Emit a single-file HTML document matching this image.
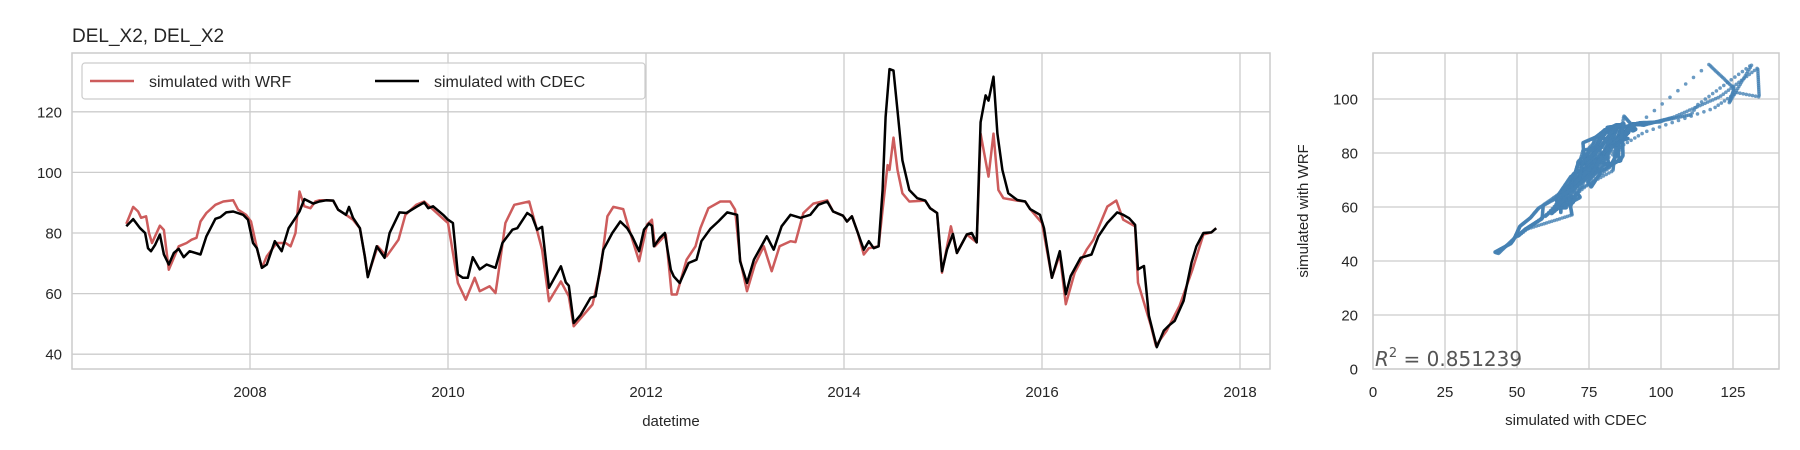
<!DOCTYPE html>
<html><head><meta charset="utf-8"><style>
html,body{margin:0;padding:0;background:#fff}
svg{display:block;font-family:"Liberation Sans",sans-serif}
</style></head><body>
<svg id="chart" width="1800" height="450" xmlns="http://www.w3.org/2000/svg"></svg>
<script>
const cdecDates=[2006.75,2006.82,2006.89,2006.94,2006.97,2007.0,2007.04,2007.09,2007.13,2007.18,2007.23,2007.28,2007.33,2007.39,2007.5,2007.56,2007.65,2007.7,2007.76,2007.83,2007.93,2007.98,2008.03,2008.07,2008.12,2008.17,2008.25,2008.32,2008.39,2008.47,2008.5,2008.55,2008.64,2008.7,2008.77,2008.84,2008.89,2008.97,2009.0,2009.04,2009.11,2009.16,2009.19,2009.28,2009.36,2009.41,2009.51,2009.58,2009.68,2009.76,2009.8,2009.85,2009.95,2010.0,2010.05,2010.1,2010.15,2010.2,2010.25,2010.32,2010.39,2010.48,2010.55,2010.65,2010.7,2010.8,2010.85,2010.9,2010.95,2011.02,2011.14,2011.19,2011.22,2011.27,2011.34,2011.44,2011.49,2011.57,2011.66,2011.74,2011.81,2011.86,2011.93,2011.98,2012.03,2012.06,2012.08,2012.14,2012.19,2012.25,2012.28,2012.34,2012.43,2012.51,2012.56,2012.65,2012.73,2012.82,2012.92,2012.95,2013.02,2013.09,2013.22,2013.29,2013.37,2013.46,2013.56,2013.66,2013.74,2013.83,2013.89,2013.99,2014.03,2014.08,2014.14,2014.2,2014.25,2014.3,2014.35,2014.39,2014.42,2014.46,2014.5,2014.54,2014.59,2014.66,2014.74,2014.82,2014.87,2014.94,2014.99,2015.04,2015.1,2015.14,2015.24,2015.29,2015.34,2015.38,2015.43,2015.46,2015.51,2015.55,2015.6,2015.66,2015.75,2015.83,2015.88,2015.98,2016.02,2016.1,2016.18,2016.24,2016.29,2016.39,2016.5,2016.57,2016.66,2016.76,2016.82,2016.88,2016.94,2016.97,2017.03,2017.08,2017.13,2017.16,2017.23,2017.28,2017.34,2017.43,2017.51,2017.56,2017.63,2017.71,2017.76];
const cdecValues=[82.2,84.6,81.6,80,75,74,76,79.5,72.9,69.6,73.4,74.8,72,74,72.9,78.9,84.7,85.2,86.8,87.1,86,84.4,76.7,75,68.5,69.6,77.3,74,81.6,85.5,87.1,91.2,89.7,90.4,90.8,90.7,87.7,86,88.6,85,81.6,72.3,65.4,75.6,71.8,80,86.8,86.6,88.6,90.1,88.2,88.8,86,84.4,83.3,66.3,65.2,65.2,72,68,69.6,68.5,76.7,81.1,81.6,86.6,85.5,81.1,82,61.9,69,63.7,62.6,50.3,53,58.6,59.1,74.5,80,83.8,81.6,78.9,74,81.1,83.1,82.4,75.6,78.4,80,67.9,65.7,63.5,70.1,71.2,77.3,81.4,83.8,86.8,86,70.7,63.5,71.2,78.9,74.5,82.2,86,85,86,89.3,90.4,87.1,85.7,83.8,85.5,80,74.5,77.3,75,75.6,94.2,118.3,134.1,133.6,120.4,104,94.2,91.5,90.7,88.2,86.6,67.4,74.5,79.7,73.4,79.5,80,76.9,116.6,125.4,123.7,131.6,112.8,100.8,93.1,90.9,90.4,87.9,86,81.6,65.2,74,59.8,65.8,71.8,72.9,78.9,83.3,86.8,86,84.9,82.7,68,69.1,52.7,46.1,42.3,47.8,49.4,51,57.6,70.2,75.6,80,80.2,81.6];
const wrfDates=[2006.75,2006.82,2006.87,2006.9,2006.95,2006.98,2007.01,2007.09,2007.13,2007.18,2007.28,2007.36,2007.41,2007.46,2007.5,2007.56,2007.65,2007.73,2007.83,2007.88,2007.96,2008.01,2008.07,2008.12,2008.17,2008.27,2008.36,2008.41,2008.46,2008.5,2008.55,2008.61,2008.66,2008.7,2008.77,2008.84,2008.89,2008.97,2009.04,2009.11,2009.16,2009.19,2009.29,2009.38,2009.5,2009.57,2009.68,2009.76,2009.94,2010.0,2010.1,2010.18,2010.27,2010.32,2010.42,2010.48,2010.5,2010.58,2010.67,2010.82,2010.88,2010.95,2011.02,2011.14,2011.22,2011.27,2011.46,2011.54,2011.61,2011.67,2011.77,2011.81,2011.93,2012.01,2012.06,2012.09,2012.2,2012.26,2012.31,2012.41,2012.5,2012.55,2012.63,2012.75,2012.85,2012.9,2012.95,2013.02,2013.1,2013.19,2013.27,2013.35,2013.46,2013.51,2013.59,2013.69,2013.83,2013.89,2013.99,2014.03,2014.08,2014.14,2014.2,2014.25,2014.35,2014.39,2014.44,2014.46,2014.5,2014.54,2014.59,2014.66,2014.82,2014.87,2014.94,2014.99,2015.08,2015.14,2015.24,2015.34,2015.38,2015.46,2015.51,2015.56,2015.61,2015.75,2015.83,2015.88,2016.0,2016.1,2016.18,2016.24,2016.33,2016.45,2016.52,2016.66,2016.75,2016.82,2016.94,2016.97,2017.1,2017.15,2017.26,2017.39,2017.52,2017.63,2017.71,2017.76];
const wrfValues=[83,88.6,87.1,85,85.5,80,76.7,82.4,81,67.9,75.6,76.7,77.8,78.4,83.8,86.6,89.3,90.4,90.8,87.7,86,83.8,75,68.5,72.3,76.7,76.7,75.6,80,93.7,88.8,88.2,90.4,90.8,90.8,90.7,87.7,86,84.4,81.6,72.3,65.7,75.6,72.3,77.8,86,89.3,90.4,85,83.3,63.5,58,65.2,60.8,62.4,60.2,64.6,83.3,89.3,90.4,83.3,74.5,57.5,64,59.1,49.2,56.4,67.9,85.5,88.6,87.9,83.3,70.7,82.7,84.4,75.6,79.5,59.7,59.7,71.2,75.6,81.6,88.2,90.4,90.4,87.7,71.2,60.8,69.6,75.6,67.4,75.6,77.3,77,86.6,89.7,90.8,87.1,85.7,83.8,85.5,80,72.9,75,75.6,87.7,102.4,100.8,111.5,100.8,93.1,90.4,90.7,88.2,86.6,66.9,82.2,73.4,79.5,76.9,112.8,98.6,112.8,94.2,91.5,90.7,90.4,87.9,83.3,65.2,72.9,56.5,66.9,74.5,77.8,88.7,90.7,84.4,82.2,63.6,49.4,42.8,47.8,56,68,79.5,80.2,81.6];
const leftYTicks=[40,60,80,100,120];
const leftXTicks=[2008,2010,2012,2014,2016,2018];
const scatXTicks=[0,25,50,75,100,125];
const scatYTicks=[0,20,40,60,80,100];
const r2Value="0.851239";

const svg=document.getElementById('chart');
const NS='http://www.w3.org/2000/svg';
function mk(tag,attrs,parent){const e=document.createElementNS(NS,tag);for(const k in attrs)e.setAttribute(k,attrs[k]);(parent||svg).appendChild(e);return e;}

const L={x0:72,x1:1270,y0:53,y1:369};
const xL=yr=>250+(yr-2008)*99;
const yL=v=>233+(80-v)*3.03;
const grid='#cccccc', txt='#262626';
const gL=mk('g',{});


leftYTicks.forEach(v=>{
  const l=mk('line',{x1:L.x0,x2:L.x1,y1:yL(v),y2:yL(v),stroke:grid,'stroke-width':1.3},gL);
  
  const t=mk('text',{x:62,y:yL(v)+5.5,'text-anchor':'end','font-size':15,fill:txt},gL);
  t.textContent=v;
});
leftXTicks.forEach(v=>{
  const l=mk('line',{x1:xL(v),x2:xL(v),y1:L.y0,y2:L.y1,stroke:grid,'stroke-width':1.3},gL);
  
  const t=mk('text',{x:xL(v),y:397,'text-anchor':'middle','font-size':15,fill:txt},gL);
  t.textContent=v;
});
const bL=mk('rect',{x:L.x0,y:L.y0,width:L.x1-L.x0,height:L.y1-L.y0,fill:'none',stroke:grid,'stroke-width':1.5},gL);

function pts(ds,vs,fx,fy){return ds.map((d,i)=>fx(d).toFixed(1)+','+fy(vs[i]).toFixed(1)).join(' ');}
const wl=mk('polyline',{points:pts(wrfDates,wrfValues,xL,yL),fill:'none',stroke:'#cd5c5c','stroke-width':2.5,'stroke-linejoin':'round'},gL);

const cl=mk('polyline',{points:pts(cdecDates,cdecValues,xL,yL),fill:'none',stroke:'#000','stroke-width':2.5,'stroke-linejoin':'round'},gL);

const tt=mk('text',{x:72,y:42,'font-size':19,fill:txt},gL);
tt.textContent='DEL_X2, DEL_X2';
const xt=mk('text',{x:671,y:426,'text-anchor':'middle','font-size':15,fill:txt},gL);
xt.textContent='datetime';
const lg=mk('g',{});

mk('rect',{x:82,y:63,width:563,height:36,rx:3,fill:'#fff','fill-opacity':0.85,stroke:'#cccccc','stroke-width':1.2},lg);
const le1=mk('g',{},lg);
mk('line',{x1:90,x2:134,y1:81,y2:81,stroke:'#cd5c5c','stroke-width':2.5},le1);
const lt1=mk('text',{x:149,y:87,'font-size':16,fill:txt},le1);lt1.textContent='simulated with WRF';
const le2=mk('g',{},lg);
mk('line',{x1:375,x2:419,y1:81,y2:81,stroke:'#000','stroke-width':2.5},le2);
const lt2=mk('text',{x:434,y:87,'font-size':16,fill:txt},le2);lt2.textContent='simulated with CDEC';

const S={x0:1373,x1:1779,y0:53,y1:369};
const xS=v=>1373+v*2.88;
const yS=v=>369-v*2.7;
const gS=mk('g',{});

scatYTicks.forEach(v=>{
  const l=mk('line',{x1:S.x0,x2:S.x1,y1:yS(v),y2:yS(v),stroke:grid,'stroke-width':1.3},gS);
  
  const t=mk('text',{x:1358,y:yS(v)+5.5,'text-anchor':'end','font-size':15,fill:txt},gS);
  t.textContent=v;
});
scatXTicks.forEach(v=>{
  const l=mk('line',{x1:xS(v),x2:xS(v),y1:S.y0,y2:S.y1,stroke:grid,'stroke-width':1.3},gS);
  
  const t=mk('text',{x:xS(v),y:397,'text-anchor':'middle','font-size':15,fill:txt},gS);
  t.textContent=v;
});
const bS=mk('rect',{x:S.x0,y:S.y0,width:S.x1-S.x0,height:S.y1-S.y0,fill:'none',stroke:grid,'stroke-width':1.5},gS);

function interp(ds,vs,t){if(t<=ds[0])return vs[0];for(let i=1;i<ds.length;i++){if(t<=ds[i]){const f=(t-ds[i-1])/(ds[i]-ds[i-1]);return vs[i-1]+f*(vs[i]-vs[i-1]);}}return vs[vs.length-1];}
const gP=mk('g',{fill:'#4682b4','fill-opacity':0.8},gS);

const tStart=Math.max(cdecDates[0],wrfDates[0]),tEnd=Math.min(cdecDates[cdecDates.length-1],wrfDates[wrfDates.length-1]);
for(let t=tStart;t<=tEnd;t+=1/365){
  const c=interp(cdecDates,cdecValues,t),w=interp(wrfDates,wrfValues,t);
  const p=mk('circle',{cx:xS(c).toFixed(1),cy:yS(w).toFixed(1),r:1.8},gP);
  
  
}
const r2=mk('text',{x:1375,y:366,'font-size':20,fill:'#555','font-family':'DejaVu Sans, sans-serif'},gS);

const r2a=mk('tspan',{'font-style':'italic'},r2);r2a.textContent='R';
const r2b=mk('tspan',{'font-size':13,dy:-9},r2);r2b.textContent='2';
const r2c=mk('tspan',{dy:9},r2);r2c.textContent=' = '+r2Value;
const sx=mk('text',{x:1576,y:425,'text-anchor':'middle','font-size':15,fill:txt},gS);
sx.textContent='simulated with CDEC';
const sy=mk('text',{x:0,y:0,'text-anchor':'middle','font-size':15,fill:txt,transform:'translate(1308,211) rotate(-90)'},gS);
sy.textContent='simulated with WRF';
</script>
</body></html>
